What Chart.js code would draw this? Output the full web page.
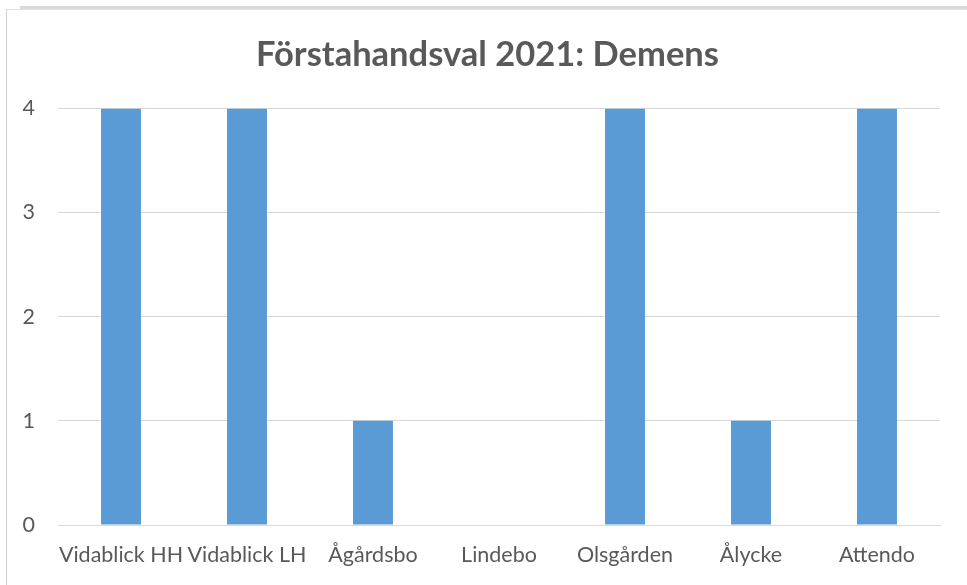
<!DOCTYPE html>
<html>
<head>
<meta charset="utf-8">
<script src="https://cdn.jsdelivr.net/npm/chart.js@4/dist/chart.umd.min.js"></script>
<style>
html,body{margin:0;padding:0;background:#fff;}
#wrap{position:relative;width:967px;height:585px;overflow:hidden;}
#frameTop{position:absolute;left:20px;top:6px;width:947px;height:0;border-top:3px solid #d9d9d9;}
#frameTop2{position:absolute;left:6px;top:9px;width:961px;height:0;border-top:1px solid #e3e3e3;}
#frameLeft{position:absolute;left:6px;top:9px;width:0;height:576px;border-left:1px solid #d0d0d0;}
canvas{position:absolute;left:0;top:0;}
</style>
</head>
<body>
<div id="wrap">
<canvas id="c" width="967" height="585"></canvas>
<div id="frameTop"></div>
<div id="frameTop2"></div>
<div id="frameLeft"></div>
</div>
<script>
const chartTitle = "Förstahandsval 2021: Demens";
const categories = ["Vidablick HH", "Vidablick LH", "Ågårdsbo", "Lindebo", "Olsgården", "Ålycke", "Attendo"];
const values = [4, 4, 1, 0, 4, 1, 4];
const yTicks = [0, 1, 2, 3, 4];

const fontFam = "Lato, 'Open Sans', sans-serif";
new Chart(document.getElementById('c'), {
  type: 'bar',
  data: {
    labels: categories,
    datasets: [{
      data: values,
      backgroundColor: '#5b9bd5',
      borderWidth: 0,
      categoryPercentage: 1,
      barPercentage: 0.317
    }]
  },
  options: {
    responsive: false,
    animation: false,
    devicePixelRatio: 1,
    layout: { padding: { left: 8, right: 0, top: 0, bottom: 0 } },
    plugins: {
      legend: { display: false },
      tooltip: { enabled: false },
      title: {
        display: true,
        text: chartTitle,
        color: '#595959',
        font: { family: fontFam, size: 34.5, weight: 'bold', lineHeight: 1.2 },
        padding: { top: 34, bottom: 33 }
      }
    },
    scales: {
      x: {
        grid: { display: false, drawTicks: false },
        border: { display: true, color: '#d9d9d9', width: 1 },
        ticks: { color: '#595959', font: { family: fontFam, size: 21.5 }, padding: 17, maxRotation: 0, autoSkip: false },
        afterFit: s => { s.height = 60; }
      },
      y: {
        min: 0, max: 4,
        afterBuildTicks: s => { s.ticks = yTicks.map(v => ({ value: v })); },
        grid: { color: '#d9d9d9', lineWidth: 1, drawTicks: false },
        border: { display: false },
        ticks: { color: '#595959', font: { family: fontFam, size: 21.5 }, padding: 23 },
        afterFit: s => { s.width = 50; }
      },
      yRight: {
        position: 'right',
        min: 0, max: 4,
        grid: { display: false, drawTicks: false },
        border: { display: false },
        ticks: { display: false },
        afterFit: s => { s.width = 27; }
      }
    }
  }
});
</script>
</body>
</html>
